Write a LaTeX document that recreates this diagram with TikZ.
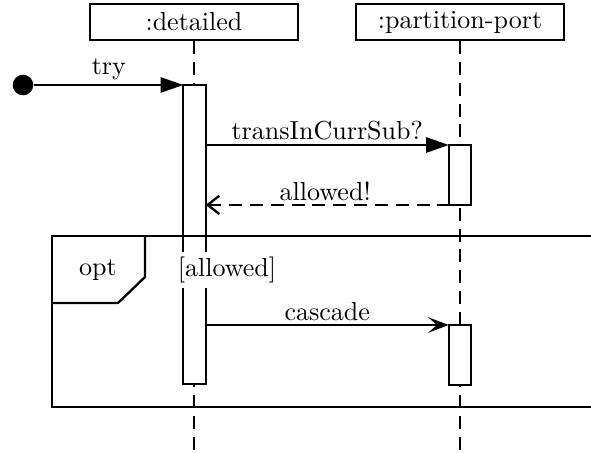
\documentclass[tikz,border=0pt]{standalone}
\usepackage{amsmath}
\usepackage{xcolor}
\usetikzlibrary{arrows.meta}

\tikzset{
  objbox/.style={draw,minimum width=79.9pt,minimum height=13.8pt,inner sep=0pt},
  actbar/.style={draw,fill=white,minimum width=8.6pt,inner sep=0pt,outer sep=0pt,anchor=north},
  lifeline/.style={dash pattern=on 5pt off 3pt},
  callmsg/.style={-{Triangle[length=8.7pt,width=5.8pt]}},
  replymsg/.style={dashed,dash pattern=on 5pt off 3pt,-{Straight Barb[length=4.5pt,width=7pt]}},
  asyncmsg/.style={-{Stealth[length=8pt,width=6pt,inset=3.5pt]}},
}

\begin{document}
\begin{tikzpicture}[x=0.384pt,y=-0.384pt,line width=0.9pt]
        \useasboundingbox (0,0) rectangle (591,453);
        \node[objbox] (detailed) at (194,22) {:detailed};
        \node[objbox] (port) at (460,22) {:partition-port};
        \draw[lifeline] (detailed.south) -- (194,453);
        \draw[lifeline] (port.south) -- (460,453);
        \node[actbar,minimum height=114.8pt] (actDet) at (194.5,85) {};
        \node[actbar,minimum height=23pt] (actPortA) at (460,145) {};
        \node[actbar,minimum height=23pt] (actPortB) at (460,325) {};
        \node[circle,fill,inner sep=0pt,minimum size=7.9pt] (init) at (23,85) {};
        \draw[callmsg] (init) -- (actDet.north west) node[midway,above,inner sep=1.5pt] {try};
        \draw[callmsg] (actDet.east |- actPortA.north) -- (actPortA.north west)
            node[midway,above,inner sep=1.5pt] {transInCurrSub?};
        \draw[replymsg] (actPortA.south east) -- (actDet.east |- actPortA.south)
            node[pos=0.55,above,inner sep=1pt] {allowed!};
        \draw[asyncmsg] (actDet.east |- actPortB.north) -- (actPortB.north west)
            node[midway,above,inner sep=1pt] {cascade};
        % opt fragment
        \draw (52,236) rectangle (640,407);
        \draw (52,303) -- (118,303) -- (145,277) -- (145,236);
        \node[] (optlbl) at (98,270) {opt};
        \node[fill=white,inner sep=2pt] (guard) at (227,270) {[allowed]};
    \end{tikzpicture}
\end{document}
